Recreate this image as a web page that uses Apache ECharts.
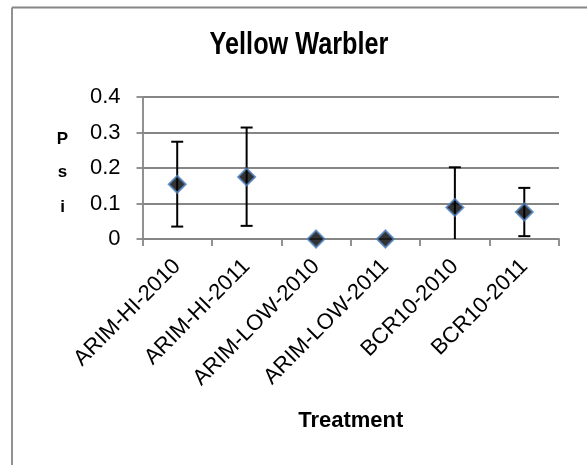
<!DOCTYPE html>
<html>
<head>
<meta charset="utf-8">
<script src="https://cdn.jsdelivr.net/npm/echarts@6/dist/echarts.min.js"></script>
<style>
  html, body { margin: 0; padding: 0; background: #fff; }
  #chart { width: 587px; height: 465px; }
</style>
</head>
<body>
<div id="chart"></div>
<script>
// Occupancy estimates (Psi) for Yellow Warbler by treatment, with error bar limits
const categories = ['ARIM-HI-2010', 'ARIM-HI-2011', 'ARIM-LOW-2010', 'ARIM-LOW-2011', 'BCR10-2010', 'BCR10-2011'];
const psi = [0.154, 0.175, 0, 0, 0.089, 0.076];
const lower = [0.035, 0.037, 0, 0, 0, 0.008];
const upper = [0.274, 0.314, 0, 0, 0.202, 0.144];
const yTicks = [0, 0.1, 0.2, 0.3, 0.4];

const FONT = '"Liberation Sans", Arial, sans-serif';
const GRAY = '#868686';

const chart = echarts.init(document.getElementById('chart'), null, { renderer: 'canvas' });

const errorData = categories.map((c, i) => [i, lower[i], upper[i]]);

chart.setOption({
  animation: false,
  backgroundColor: '#fff',
  graphic: [
    // Chart area frame (top and left edges)
    { type: 'line', shape: { x1: 12, y1: 7.5, x2: 587, y2: 7.5 }, style: { stroke: GRAY, lineWidth: 1.8 } },
    { type: 'line', shape: { x1: 12, y1: 7.5, x2: 12, y2: 465 }, style: { stroke: GRAY, lineWidth: 1.8 } },
    // Title, condensed bold
    {
      type: 'text', x: 299, y: 45, scaleX: 0.79,
      style: { text: 'Yellow Warbler', font: 'bold 32px ' + FONT, fill: '#000', align: 'center', verticalAlign: 'middle' }
    },
    // Stacked y-axis title
    { type: 'text', x: 62.5, y: 139, style: { text: 'P', font: 'bold 17px ' + FONT, fill: '#000', align: 'center', verticalAlign: 'middle' } },
    { type: 'text', x: 62.5, y: 172, style: { text: 's', font: 'bold 17px ' + FONT, fill: '#000', align: 'center', verticalAlign: 'middle' } },
    { type: 'text', x: 62.5, y: 207, style: { text: 'i', font: 'bold 17px ' + FONT, fill: '#000', align: 'center', verticalAlign: 'middle' } }
  ],
  grid: { left: 142.5, right: 28, top: 97, bottom: 226, containLabel: false },
  xAxis: {
    type: 'category',
    data: categories,
    boundaryGap: true,
    name: 'Treatment',
    nameLocation: 'middle',
    nameGap: 171,
    nameTextStyle: { fontFamily: FONT, fontSize: 22, fontWeight: 'bold', color: '#000' },
    axisLine: { lineStyle: { color: GRAY, width: 1.8 } },
    axisTick: { show: true, alignWithLabel: false, length: 7, lineStyle: { color: GRAY, width: 1.8 } },
    axisLabel: { rotate: 45, fontFamily: FONT, fontSize: 22, color: '#000', margin: 24, interval: 0 },
    splitLine: { show: false }
  },
  yAxis: {
    type: 'value',
    min: 0,
    max: 0.4,
    interval: 0.1,
    axisLine: { show: true, lineStyle: { color: GRAY, width: 1.8 } },
    axisTick: { show: true, inside: false, length: 6, lineStyle: { color: GRAY, width: 1.8 } },
    axisLabel: {
      fontFamily: FONT, fontSize: 22, color: '#000', margin: 22,
      formatter: v => {
        const t = yTicks.find(x => Math.abs(x - v) < 1e-9);
        return t === undefined ? '' : String(t);
      }
    },
    splitLine: { show: true, lineStyle: { color: GRAY, width: 1.8 } }
  },
  series: [
    {
      type: 'custom',
      z: 3,
      data: errorData,
      renderItem: (params, api) => {
        const x = api.value(0);
        const loV = api.value(1);
        const hiV = api.value(2);
        const lo = api.coord([x, loV]);
        const hi = api.coord([x, hiV]);
        if (hiV - loV <= 0) return null;
        const cap = 6;
        const style = { stroke: '#000', lineWidth: 2 };
        const children = [
          { type: 'line', shape: { x1: lo[0], y1: lo[1], x2: hi[0], y2: hi[1] }, style },
          { type: 'line', shape: { x1: hi[0] - cap, y1: hi[1], x2: hi[0] + cap, y2: hi[1] }, style }
        ];
        // the lower cap is hidden when the interval reaches zero
        if (loV > 0) {
          children.push({ type: 'line', shape: { x1: lo[0] - cap, y1: lo[1], x2: lo[0] + cap, y2: lo[1] }, style });
        }
        return { type: 'group', children };
      }
    },
    {
      type: 'scatter',
      z: 5,
      data: psi,
      symbol: 'diamond',
      symbolSize: [17, 17],
      itemStyle: { color: '#000', borderColor: '#4f81bd', borderWidth: 2 }
    }
  ]
});
</script>
</body>
</html>
